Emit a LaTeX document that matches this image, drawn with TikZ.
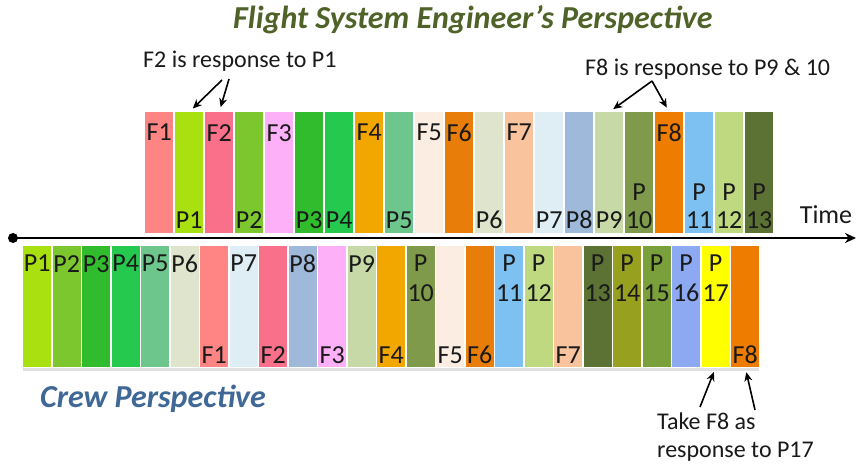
\documentclass[tikz,border=0pt]{standalone}
\usepackage{fontspec}
\setmainfont{Carlito}
\usetikzlibrary{arrows.meta, positioning, calc}

% bar colours
\definecolor{cF1}{HTML}{FF8585}
\definecolor{cF2}{HTML}{F8708A}
\definecolor{cF3}{HTML}{FDB0F7}
\definecolor{cF4}{HTML}{F2A700}
\definecolor{cF5}{HTML}{FCEDE2}
\definecolor{cF6}{HTML}{E97D0A}
\definecolor{cF7}{HTML}{F9C39D}
\definecolor{cF8}{HTML}{EE7C00}
\definecolor{cP1}{HTML}{A9E00F}
\definecolor{cP2}{HTML}{7DC72E}
\definecolor{cP3}{HTML}{30BC2C}
\definecolor{cP4}{HTML}{24C94E}
\definecolor{cP5}{HTML}{6DC78D}
\definecolor{cP6}{HTML}{DEE5CC}
\definecolor{cP7}{HTML}{DEEEF4}
\definecolor{cP8}{HTML}{9EB9D9}
\definecolor{cP9}{HTML}{C7D9A7}
\definecolor{cP10}{HTML}{7F9A4A}
\definecolor{cP11}{HTML}{7CC1F1}
\definecolor{cP12}{HTML}{BED97F}
\definecolor{cP13}{HTML}{5C7134}
\definecolor{cP14}{HTML}{98A020}
\definecolor{cP15}{HTML}{79A03B}
\definecolor{cP16}{HTML}{8DA9F1}
\definecolor{cP17}{HTML}{FFFF00}
\definecolor{LabelInk}{HTML}{1A1A1A}
\definecolor{FSEGreen}{HTML}{4F6228}
\definecolor{CrewBlue}{HTML}{3F6897}

\begin{document}
\begin{tikzpicture}[x=1pt, y=-1pt, >=Stealth,
  bar/.style={anchor=north west, inner sep=0, minimum width=28pt, minimum height=121pt},
  barlab/.style={inner sep=0, align=center, text=LabelInk, font=\fontsize{26}{28}\selectfont},
  up north/.style={barlab, anchor=north, yshift=-12pt},
  up south/.style={barlab, anchor=south, yshift=5pt},
  lo north/.style={barlab, anchor=north, yshift=-9pt, font=\fontsize{26}{30}\selectfont},
  lo south/.style={barlab, anchor=south, yshift=4pt},
  note/.style={inner sep=0, anchor=base west, text=LabelInk, font=\fontsize{24}{28}\selectfont},
  heading/.style={inner sep=0, anchor=base west, font=\fontsize{32}{36}\selectfont\bfseries\itshape},
  pointer/.style={-{Stealth[length=9pt, width=8pt]}, line width=1.6pt, shorten >=5pt}]
  \fill[white] (0,0) rectangle (856,468);
  \useasboundingbox (0,0) rectangle (856,468);

  % Headings
  \node[heading, text=FSEGreen] (fsetitle) at (233,29) {Flight System Engineer’s Perspective};
  \node[heading, text=CrewBlue] (crewtitle) at (40,407) {Crew Perspective};

  % Flight system engineer's order (above the time line)
  \foreach \txt/\col/\where [count=\i from 0] in {F1/cF1/north, P1/cP1/south, F2/cF2/north,
      P2/cP2/south, F3/cF3/north, P3/cP3/south, P4/cP4/south, F4/cF4/north, P5/cP5/south,
      F5/cF5/north, F6/cF6/north, P6/cP6/south, F7/cF7/north, P7/cP7/south, P8/cP8/south,
      P9/cP9/south, {P\\10}/cP10/south, F8/cF8/north, {P\\11}/cP11/south,
      {P\\12}/cP12/south, {P\\13}/cP13/south}{
    \node[bar, fill=\col] (u\i) at (145+30*\i, 112) {};
    \node[up \where] (u\i-lab) at (u\i.\where) {\txt};
  }

  % Crew order (below the time line)
  \foreach \txt/\col/\where [count=\i from 0] in {P1/cP1/north, P2/cP2/north, P3/cP3/north,
      P4/cP4/north, P5/cP5/north, P6/cP6/north, F1/cF1/south, P7/cP7/north, F2/cF2/south,
      P8/cP8/north, F3/cF3/south, P9/cP9/north, F4/cF4/south, {P\\10}/cP10/north,
      F5/cF5/south, F6/cF6/south, {P\\11}/cP11/north, {P\\12}/cP12/north, F7/cF7/south,
      {P\\13}/cP13/north, {P\\14}/cP14/north, {P\\15}/cP15/north, {P\\16}/cP16/north,
      {P\\17}/cP17/north, F8/cF8/south}{
    \node[bar, fill=\col] (l\i) at (23+29.5*\i, 246) {};
    \node[lo \where] (l\i-lab) at (l\i.\where) {\txt};
  }
  \fill[black!12] ($(l0.south west)+(0,1)$) rectangle ($(l24.south east)+(0,4)$);

  % Time line
  \node[circle, fill=black, inner sep=0, minimum size=10pt] (start) at (13,238) {};
  \coordinate (stop) at (856,238);
  \draw[line width=2.6pt, -{Stealth[length=11pt, width=10pt]}] (start.center) -- (stop);
  \node[barlab, anchor=base] (time) at (826,223) {Time};

  % Responses
  \node[note] (resp1) at (143,68) {F2 is response to P1};
  \coordinate (resp1a) at (222,80);
  \coordinate (resp1b) at (229,79);
  \draw[pointer] (resp1a) -- (u1.north);
  \draw[pointer] (resp1b) -- (u2.north);

  \node[note] (resp2) at (585,76) {F8 is response to P9 \& 10};
  \coordinate (resp2a) at (652,81);
  \draw[pointer] (resp2a) -- (u15.north);
  \draw[pointer] (resp2a) -- (u17.north);

  % base of a two-line note is its last line
  \node[note, align=left] (resp3) at (657,457) {Take F8 as\\response to P17};
  \coordinate (resp3a) at (700,407);
  \coordinate (resp3b) at (755,410);
  \draw[pointer] (resp3a) -- (l23.south);
  \draw[pointer] (resp3b) -- (l24.south);
\end{tikzpicture}
\end{document}
